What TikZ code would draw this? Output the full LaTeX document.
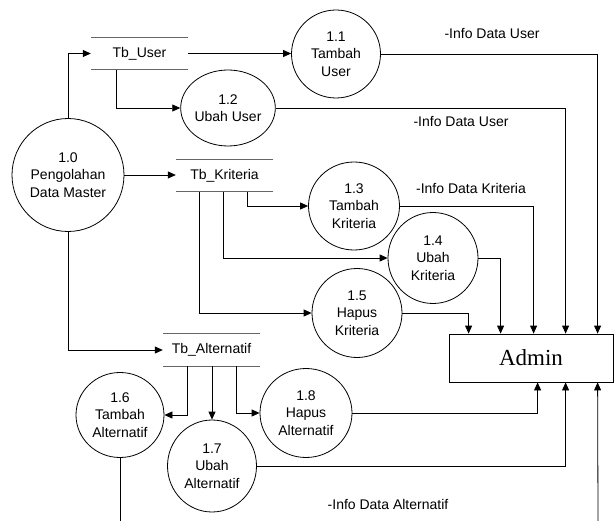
\documentclass[tikz,border=0pt]{standalone}
\usepackage{fontspec}
\setmainfont{Liberation Sans}
\newfontfamily\adminfont{Liberation Serif}
\usetikzlibrary{shapes.geometric,arrows.meta,calc}
\tikzset{
  proc/.style={draw, ellipse, inner sep=0pt, align=center, line width=0.8pt,
    font=\fontsize{14}{17.5}\selectfont},
  store/.style={inner sep=0pt, minimum width=97pt, minimum height=32pt,
    font=\fontsize{14}{17.5}\selectfont},
  storeline/.style={draw=black!60, line width=1pt},
  flow/.style={draw, line width=0.8pt},
  arr/.style={flow, -{Triangle[length=8pt,width=7pt]}},
  lbl/.style={anchor=base, inner sep=0pt, font=\fontsize{14}{17.5}\selectfont}
}
\begin{document}
\begin{tikzpicture}[x=1pt,y=-1pt]
\useasboundingbox (0,0) rectangle (615,521);

% processes
\node[proc, minimum width=112pt, minimum height=113pt] (p10) at (68,175) {1.0\\Pengolahan\\Data Master};
\node[proc, minimum width=89pt, minimum height=88pt] (p11) at (336,54) {1.1\\Tambah\\User};
\node[proc, minimum width=90pt, minimum height=76pt] (p12) at (228,108) {1.2\\Ubah User};
\node[proc, minimum width=91pt, minimum height=88pt] (p13) at (354,206) {1.3\\Tambah\\Kriteria};
\node[proc, minimum width=90pt, minimum height=91pt] (p14) at (433,258) {1.4\\Ubah\\Kriteria};
\node[proc, minimum width=90pt, minimum height=89pt] (p15) at (357,313) {1.5\\Hapus\\Kriteria};
\node[proc, minimum width=88pt, minimum height=85pt] (p16) at (120,415) {1.6\\Tambah\\Alternatif};
\node[proc, minimum width=89pt, minimum height=92pt] (p17) at (212,466) {1.7\\Ubah\\Alternatif};
\node[proc, minimum width=92pt, minimum height=89pt] (p18) at (306,413) {1.8\\Hapus\\Alternatif};

% data stores
\node[store] (tbuser) at (139.5,53.5) {Tb\_User};
\node[store] (tbkrit) at (224.5,175.5) {Tb\_Kriteria};
\node[store] (tbalt) at (211.5,350) {Tb\_Alternatif};
\foreach \s in {tbuser,tbkrit,tbalt}{
  \draw[storeline] (\s.north west) -- (\s.north east);
  \draw[storeline] (\s.south west) -- (\s.south east);
}

% external entity
\node[draw, line width=0.8pt, minimum width=164pt, minimum height=48pt, inner sep=0pt,
  font=\adminfont\fontsize{23}{26}\selectfont] (admin) at (531,358) {Admin};

% flows from 1.0
\draw[arr] (p10.north) |- (tbuser.west);
\draw[arr] (p10.east) -- (p10.east -| tbkrit.west);
\draw[arr] (p10.south) |- (tbalt.west);

% Tb_User flows
\draw[arr] (tbuser.east) -- (tbuser.east -| p11.west);
\draw[arr] ([xshift=-23.5pt]tbuser.south) |- (p12.west);

% Tb_Kriteria flows
\draw[arr] ([xshift=72pt]tbkrit.south west) |- (p13.west);
\draw[arr] ([xshift=48pt]tbkrit.south west) |- (p14.west);
\draw[arr] ([xshift=24pt]tbkrit.south west) |- (p15.west);

% Tb_Alternatif flows
\draw[arr] ([xshift=25pt]tbalt.south west) |- (p16.east);
\draw[arr] (tbalt.south -| p17.north) -- (p17.north);
\draw[arr] ([xshift=74pt]tbalt.south west) |- (p18.west);

% to Admin (top)
\draw[arr] (p11.east) -| ([xshift=149pt]admin.north west);
\draw[arr] (p12.east) -| ([xshift=117pt]admin.north west);
\draw[arr] (p13.east) -| ([xshift=85pt]admin.north west);
\draw[arr] (p14.east) -| ([xshift=52pt]admin.north west);
\draw[arr] (p15.east) -| ([xshift=20pt]admin.north west);

% to Admin (bottom)
\draw[arr] (p18.east) -| ([xshift=89pt]admin.south west);
\draw[arr] (p17.east) -| ([xshift=117pt]admin.south west);
\coordinate (b1) at (598,521);
\draw[arr] (b1) -- ([xshift=149pt]admin.south west);
\coordinate (b2) at (119,521);
\draw[flow] (p16.south) -- (p16.south |- b2);

% labels
\node[lbl] (l1) at (492,39) {-Info Data User};
\node[lbl] (l2) at (461,127) {-Info Data User};
\node[lbl] (l3) at (471,194) {-Info Data Kriteria};
\node[lbl] (l4) at (388,509) {-Info Data Alternatif};
\end{tikzpicture}
\end{document}
